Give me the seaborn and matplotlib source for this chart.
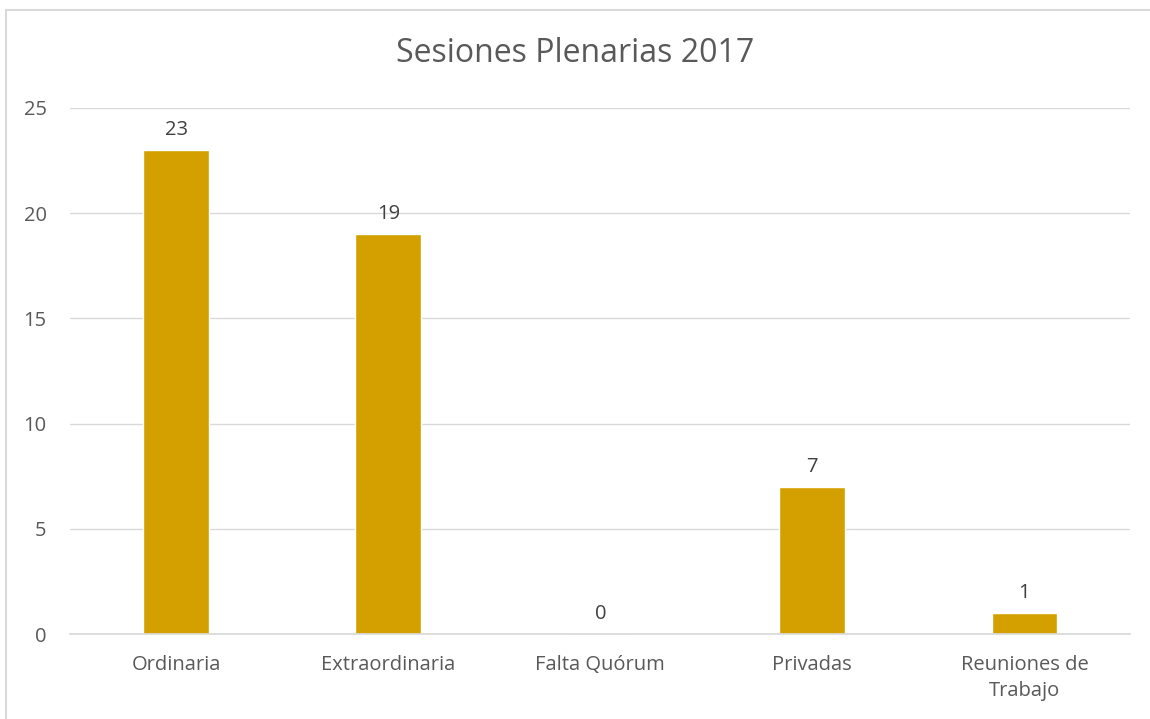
import matplotlib
matplotlib.use("Agg")
import matplotlib.pyplot as plt
import seaborn as sns
import pandas as pd
from matplotlib.patches import Rectangle

categories = ["Ordinaria", "Extraordinaria", "Falta Quórum", "Privadas", "Reuniones de\nTrabajo"]
values = [23, 19, 0, 7, 1]
yticks = [0, 5, 10, 15, 20, 25]
title = "Sesiones Plenarias 2017"

sns.set_theme(style="white")
plt.rcParams['font.family'] = ['Open Sans', 'DejaVu Sans']

df = pd.DataFrame({"cat": categories, "val": values})

fig = plt.figure(figsize=(11.5, 7.19), dpi=100)
ax = fig.add_axes([0.061, 0.118, 0.922, 0.732])
sns.barplot(data=df, x="cat", y="val", color="#D4A000", width=0.31, ax=ax, saturation=1)

ax.set_ylim(0, 25)
ax.set_yticks(yticks)
ax.set_yticklabels([str(t) for t in yticks], fontsize=14.5, color="#595959")
ax.tick_params(axis="x", labelsize=14.5, colors="#595959", length=0, pad=15)
for lbl in ax.get_xticklabels():
    lbl.set_linespacing(1.4)
ax.tick_params(axis="y", length=0, pad=17)
ax.set_xlabel("")
ax.set_ylabel("")
ax.yaxis.grid(True, color="#D9D9D9", linewidth=1)
ax.set_axisbelow(True)
for s in ["top", "right", "left"]:
    ax.spines[s].set_visible(False)
ax.spines["bottom"].set_color("#D9D9D9")
ax.set_xlim(-0.5, 4.5)

for i, v in enumerate(values):
    ax.annotate(str(v), (i, v), xytext=(0, 7), textcoords="offset points",
                ha="center", va="bottom", fontsize=14.5, color="#404040")

fig.text(0.5, 0.925, title, ha="center", va="center", fontsize=23, color="#595959")
fig.patches.append(Rectangle((6/1150, -0.05), 1.2, (709/719) + 0.05, transform=fig.transFigure,
                             fill=False, edgecolor="#D9D9D9", linewidth=1.5))

fig.savefig("out.png", dpi=100)
